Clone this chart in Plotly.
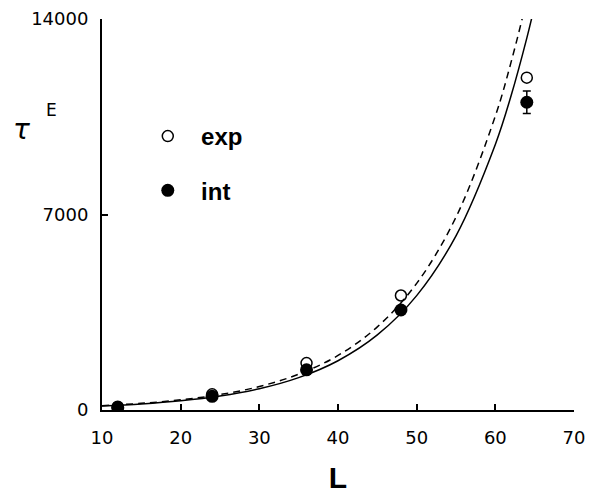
import plotly.graph_objects as go

# Lattice sizes and measured / integrated values
L_points = [12, 24, 36, 48, 64]
tau_exp = [120, 560, 1680, 4100, 11900]
tau_int = [90, 490, 1440, 3580, 11020]
tau_int_err = [0, 0, 0, 0, 400]

# Fitted curves, values
L_curve = [10, 15, 20, 25, 30, 35, 40, 45, 50, 55, 60, 62, 64, 65]
fit_solid = [141, 215, 328, 499, 760, 1158, 1764, 2688, 4096, 6238, 9509, 11250, 13314, 14483]
fit_dashed = [156, 238, 363, 552, 841, 1282, 1953, 2976, 4534, 6905, 10526, 12454, 14739, 16300]

x_ticks = [10, 20, 30, 40, 50, 60, 70]
y_ticks = [0, 7000, 14000]
y_tick_text = ["0", "7000", "14000"]

FONT = "DejaVu Sans"

fig = go.Figure()
fig.add_trace(go.Scatter(x=L_curve, y=fit_solid, mode="lines", line=dict(color="black", width=1.5, shape="spline"),
                         showlegend=False, hoverinfo="skip"))
fig.add_trace(go.Scatter(x=L_curve, y=fit_dashed, mode="lines",
                         line=dict(color="black", width=1.5, dash="7px,5px", shape="spline"),
                         showlegend=False, hoverinfo="skip"))
fig.add_trace(go.Scatter(x=L_points, y=tau_exp, mode="markers", name="\u00a0\u00a0exp", legendgroup="a",
                         marker=dict(symbol="circle-open", size=11, color="black", line=dict(width=1.5))))
fig.add_trace(go.Scatter(x=L_points, y=tau_int, mode="markers", name="\u00a0\u00a0int", legendgroup="b",
                         marker=dict(symbol="circle", size=13, color="black"),
                         error_y=dict(type="data", array=tau_int_err, visible=True, color="black", thickness=1.5, width=4)))

fig.update_layout(
    width=600, height=500,
    margin=dict(l=94, r=34, t=11, b=98, autoexpand=False),
    paper_bgcolor="white", plot_bgcolor="white",
    font=dict(family=FONT, color="black", size=18),
    legend=dict(x=0.097, y=0.757, xanchor="left", yanchor="top", traceorder="grouped", tracegroupgap=20,
                font=dict(family="Liberation Sans", size=24, weight="bold"), bgcolor="rgba(0,0,0,0)"),
    annotations=[
        dict(text="τ", xref="paper", yref="paper", x=-0.17, y=0.718, showarrow=False,
             font=dict(family=FONT, size=28, style="italic"), xanchor="center", yanchor="middle"),
        dict(text="E", xref="paper", yref="paper", x=-0.106, y=0.766, showarrow=False,
             font=dict(family=FONT, size=17), xanchor="center", yanchor="middle"),
    ],
)
fig.update_xaxes(range=[10, 70], tickvals=x_ticks, showline=True, linecolor="black", linewidth=2,
                 ticks="inside", ticklen=6, tickwidth=1.5, tickcolor="black", showgrid=False, zeroline=False,
                 ticklabelstandoff=10, automargin=False, ticklabeloverflow="allow",
                 title=dict(text="<b>L</b>", font=dict(family="Liberation Sans", size=30), standoff=20))
fig.update_yaxes(range=[0, 14000], tickvals=y_ticks, ticktext=y_tick_text, showline=True, linecolor="black",
                 linewidth=2, ticks="inside", ticklen=6, tickwidth=1.5, tickcolor="black", showgrid=False,
                 zeroline=False, ticklabelstandoff=8, automargin=False, ticklabeloverflow="allow")

fig.write_html("out.html")
